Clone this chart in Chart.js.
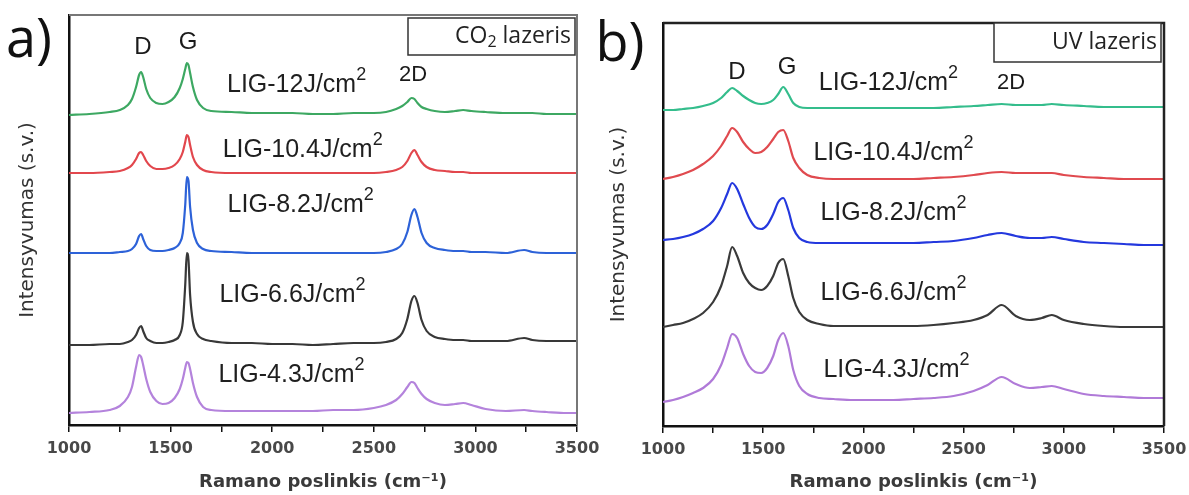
<!DOCTYPE html>
<html><head><meta charset="utf-8">
<script src="https://cdn.jsdelivr.net/npm/chart.js@4.4.1/dist/chart.umd.min.js"></script>
<style>
html,body{margin:0;padding:0;background:#fff;}
#wrap{position:relative;width:1189px;height:495px;overflow:hidden;}
.pane{position:absolute;top:0;}
</style></head><body>
<div id="wrap">
<div class="pane" style="left:0;width:610px;height:495px"><canvas id="cA" width="610" height="495"></canvas></div>
<div class="pane" style="left:594px;width:595px;height:495px"><canvas id="cB" width="595" height="495"></canvas></div>
</div>
<script>
// ---------- DATA ----------
const seriesNames = ['LIG-12J/cm', 'LIG-10.4J/cm', 'LIG-8.2J/cm', 'LIG-6.6J/cm', 'LIG-4.3J/cm'];
const xTickLabels = [1000, 1500, 2000, 2500, 3000, 3500];

// Panel a) CO2 laser: Raman shift (cm-1)
const shiftA = [1000,1100,1200,1250,1290,1310,1330,1345,1355,1365,1380,1400,1430,1460,1490,1520,1545,1560,1572,1580,1588,1596,1610,1630,1660,1700,1800,1900,2000,2100,2200,2300,2400,2500,2560,2610,2640,2665,2685,2700,2715,2735,2760,2800,2850,2900,2940,2980,3050,3150,3240,3280,3350,3450,3500];
const a12  = [310,311,313,315,320,326,338,350,353,348,336,327,322,321,323,328,337,346,356,362,360,352,338,325,317,314,313,312,312,312,311,311,312,312,313,316,319,323,327,326,322,318,316,314,313,314,315,314,313,312,312,312,311,311,311];
const a104 = [252,252,253,254,257,260,266,272,273,270,264,259,256,256,257,260,266,273,283,290,288,280,268,260,255,253,252,252,252,252,252,252,252,252,253,255,258,264,272,275,270,263,258,255,254,253,253,252,252,252,252,252,252,252,252];
const a82  = [172,172,172,173,174,176,181,189,191,186,179,175,174,174,175,177,182,192,220,248,244,218,195,182,176,174,173,172,172,172,172,172,172,172,173,176,181,193,210,216,208,192,182,177,175,174,174,173,173,172,175,173,172,172,172];
const a66  = [80,80,81,81,83,85,90,97,99,94,87,84,82,82,83,85,90,103,140,172,165,130,103,91,86,84,82,82,81,81,80,81,82,82,83,86,92,106,124,129,122,105,94,88,86,85,85,84,84,84,87,85,84,84,84];
const a43  = [12,13,15,19,28,38,58,70,68,60,46,33,24,21,22,27,36,46,57,63,62,56,42,28,18,15,14,14,14,14,14,15,15,17,20,25,31,38,43,42,37,31,26,22,20,21,22,20,16,14,15,14,13,12,12];

// Panel b) UV laser
const shiftB = [1000,1050,1100,1150,1200,1250,1290,1320,1345,1370,1400,1430,1460,1490,1520,1550,1575,1600,1625,1650,1680,1720,1780,1850,1950,2050,2150,2250,2350,2450,2550,2620,2690,2760,2830,2890,2940,3000,3100,3200,3300,3400,3500];
const b12  = [316,316,317,318,320,323,328,334,338,335,330,326,323,322,323,326,332,339,332,323,319,318,318,318,318,318,318,318,318,319,320,321,322,321,321,321,322,321,320,319,319,319,319];
const b104 = [247,249,252,256,262,270,280,290,298,294,284,277,273,274,279,287,294,296,285,268,258,251,248,247,247,247,247,247,248,249,251,253,254,253,253,253,253,251,249,248,247,247,247];
const b82  = [186,187,189,192,197,205,218,232,243,237,222,208,199,197,201,212,224,228,216,198,188,184,183,183,183,183,183,183,184,185,188,191,193,190,188,188,189,187,184,183,182,181,181];
const b66  = [99,101,103,107,113,124,140,160,179,170,153,143,138,136,140,150,163,167,150,128,114,106,102,100,100,100,100,100,101,103,106,111,121,110,106,108,111,106,102,100,99,99,99];
const b43  = [24,26,29,33,38,47,61,78,92,88,72,60,54,53,58,70,86,93,80,56,40,32,28,27,26,26,26,27,28,30,35,41,49,42,38,39,40,37,32,30,29,28,28];

// label anchor values (wavenumber, intensity) for text annotations
const labelShiftA = [2120, 2150, 2140, 2100, 2095];
const labelIntA   = [340, 275, 220, 130, 50];
const labelShiftB = [2125, 2150, 2150, 2150, 2165];
const labelIntB   = [343, 273, 213, 133, 56];

// ---------- STYLE ----------
const colorsA = ['#3da862', '#e2474d', '#2d62d8', '#383838', '#b483dc'];
const colorsB = ['#34bd8c', '#e04a4f', '#2438de', '#3a3a3a', '#b07ad8'];

function rich(ctx, parts, cx, cy, align) {
  let w = 0;
  parts.forEach(p => { ctx.font = p.font; p.w = ctx.measureText(p.t).width; w += p.w; });
  let x = align === 'right' ? cx - w : (align === 'left' ? cx : cx - w / 2);
  ctx.textBaseline = 'middle';
  ctx.textAlign = 'left';
  parts.forEach(p => { ctx.font = p.font; ctx.fillText(p.t, x, cy + (p.dy || 0)); x += p.w; });
}

function makePlugin(cfg) {
  return {
    id: 'deco' + cfg.letter,
    afterDraw(chart) {
      const ctx = chart.ctx, ca = chart.chartArea;
      const xs = chart.scales.x, ys = chart.scales.y;
      ctx.save();
      // top & right frame
      ctx.strokeStyle = cfg.frameColor; ctx.lineWidth = cfg.frameWidth;
      ctx.beginPath();
      ctx.moveTo(ca.left, ca.top); ctx.lineTo(ca.right, ca.top); ctx.lineTo(ca.right, ca.bottom);
      ctx.stroke();
      // legend box
      const bw = 167, bh = cfg.boxH;
      const bx = ca.right - cfg.boxInset - bw, by = ca.top + cfg.boxTop;
      ctx.fillStyle = '#fff'; ctx.fillRect(bx, by, bw, bh);
      ctx.strokeStyle = '#333'; ctx.lineWidth = 1.5; ctx.strokeRect(bx, by, bw, bh);
      ctx.fillStyle = '#222';
      rich(ctx, cfg.boxParts, bx + bw - 4, by + bh / 2, 'right');
      // panel letter
      ctx.fillStyle = '#111';
      ctx.font = '400 54px "Open Sans"';
      ctx.textAlign = 'center'; ctx.textBaseline = 'middle';
      ctx.fillText(cfg.letter + ')', cfg.letterX, cfg.letterY);
      // peak labels
      ctx.fillStyle = '#1a1a1a';
      ctx.font = '24px "Liberation Sans"';
      ctx.fillText('D', xs.getPixelForValue(cfg.peakD[0]), ys.getPixelForValue(cfg.peakD[1]));
      ctx.fillText('G', xs.getPixelForValue(cfg.peakG[0]), ys.getPixelForValue(cfg.peakG[1]));
      ctx.font = '22px "Liberation Sans"';
      ctx.fillText('2D', xs.getPixelForValue(cfg.peak2D[0]), ys.getPixelForValue(cfg.peak2D[1]));
      // curve labels
      ctx.fillStyle = '#1f1f1f';
      for (let i = 0; i < seriesNames.length; i++) {
        rich(ctx, [
          {t: seriesNames[i], font: '25px "Liberation Sans"'},
          {t: '2', font: '18px "Liberation Sans"', dy: -10}
        ], xs.getPixelForValue(cfg.lx[i]), ys.getPixelForValue(cfg.ly[i]), 'center');
      }
      ctx.restore();
    }
  };
}

function build(id, shifts, ys, colors, yMax, padTop, padRight, yTitlePad, cfg) {
  const datasets = ys.map((arr, i) => ({
    label: seriesNames[i] + '2',
    data: shifts.map((s, j) => ({x: s, y: arr[j]})),
    borderColor: colors[i],
    borderWidth: 2.2,
    pointRadius: 0,
    cubicInterpolationMode: 'monotone',
    fill: false
  }));
  const axisH = 495 - padTop - yMax;
  return new Chart(document.getElementById(id), {
    type: 'line',
    data: {datasets},
    plugins: [makePlugin(cfg)],
    options: {
      responsive: false,
      animation: false,
      events: [],
      layout: {padding: {left: 0, right: padRight, top: padTop, bottom: 0}},
      plugins: {legend: {display: false}, tooltip: {enabled: false}},
      scales: {
        x: {
          type: 'linear', min: 1000, max: 3500,
          afterFit: s => { s.height = axisH; s.paddingRight = 0; s.paddingLeft = 0; },
          ticks: {
            stepSize: 250, autoSkip: false, maxRotation: 0, padding: 7,
            color: '#484848', font: {family: '"DejaVu Sans"', size: 16, weight: 'bold'},
            callback: v => (xTickLabels.includes(v) ? String(v) : '')
          },
          grid: {drawOnChartArea: false, drawTicks: true, tickLength: 7, color: '#111', lineWidth: 1.5},
          border: {display: true, color: '#111', width: 2.5},
          title: {display: true, text: 'Ramano poslinkis (cm⁻¹)', color: '#3a3a3a',
                  font: {family: '"DejaVu Sans"', size: 18, weight: 'bold'}, padding: {top: 0, bottom: 2}}
        },
        y: {
          type: 'linear', min: 0, max: yMax,
          afterFit: s => { s.width = 69; s.paddingTop = 0; s.paddingBottom = 0; },
          ticks: {display: false},
          grid: {drawOnChartArea: false, drawTicks: false},
          border: {display: true, color: '#111', width: 2.5},
          title: {display: true, text: 'Intensyvumas (s.v.)', color: '#333',
                  font: {family: '"DejaVu Sans"', size: 20}, padding: {top: yTitlePad, bottom: 0}}
        }
      }
    }
  });
}

build('cA', shiftA, [a12, a104, a82, a66, a43], colorsA, 410, 15, 33, 16, {
  letter: 'a', letterX: 29, letterY: 42,
  frameColor: '#777', frameWidth: 2,
  boxInset: 2, boxTop: 3, boxH: 37,
  boxParts: [{t: 'CO', font: '23px "Open Sans"'}, {t: '2', font: '16px "Open Sans"', dy: 6}, {t: ' lazeris', font: '23px "Open Sans"'}],
  peakD: [1364, 378], peakG: [1586, 383], peak2D: [2693, 350],
  lx: labelShiftA, ly: labelIntA
});
build('cB', shiftB, [b12, b104, b82, b66, b43], colorsB, 403, 23, 25, 13, {
  letter: 'b', letterX: 26, letterY: 46,
  frameColor: '#222', frameWidth: 2.5,
  boxInset: 3, boxTop: 0, boxH: 39,
  boxParts: [{t: 'UV lazeris', font: '23px "Open Sans"'}],
  peakD: [1369, 354], peakG: [1619, 359], peak2D: [2737, 343],
  lx: labelShiftB, ly: labelIntB
});
</script>
</body></html>
